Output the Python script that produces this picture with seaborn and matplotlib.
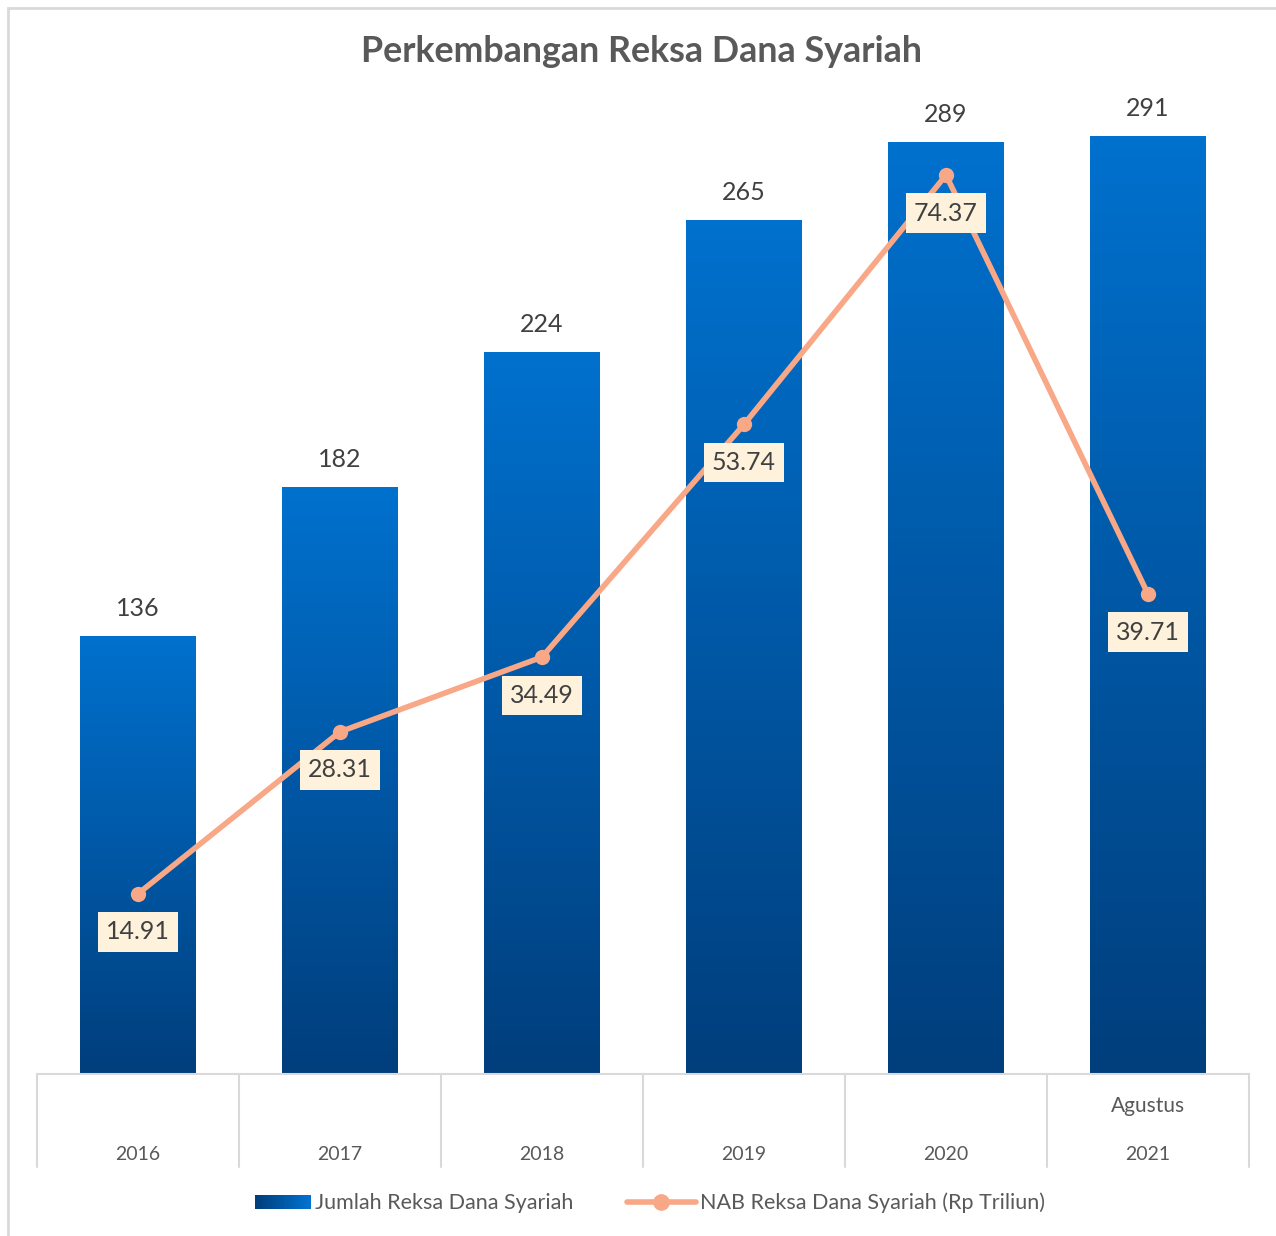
import seaborn as sns
import matplotlib.pyplot as plt
import matplotlib.transforms as mtransforms
from matplotlib.colors import LinearSegmentedColormap
from matplotlib.patches import Rectangle, Patch
from matplotlib.lines import Line2D
from matplotlib.legend_handler import HandlerBase
import numpy as np
import pandas as pd

# data
years = ['2016', '2017', '2018', '2019', '2020', '2021']
sub_labels = ['', '', '', '', '', 'Agustus']
jumlah = [136, 182, 224, 265, 289, 291]
nab = [14.91, 28.31, 34.49, 53.74, 74.37, 39.71]

sns.set_theme(style='white')
plt.rcParams['font.family'] = ['Lato', 'DejaVu Sans']

TEXT = '#595959'
GRID = '#D9D9D9'
LINE = '#F8A886'
TOP_BLUE = '#0071CE'
BOT_BLUE = '#003E7C'

cmap = LinearSegmentedColormap.from_list('bar', [BOT_BLUE, TOP_BLUE])


class GradientHandler(HandlerBase):
    # legend key with a left-to-right gradient, like the bars
    def create_artists(self, legend, orig_handle, xdescent, ydescent,
                       width, height, fontsize, trans):
        n = 20
        w = width * 0.8
        x0 = -xdescent + (width - w)
        h = height * 0.9
        y0 = -ydescent + (height - h) / 2
        arts = []
        for k in range(n):
            r = Rectangle((x0 + k * w / n, y0), w / n + 0.3, h,
                          fc=cmap(k / (n - 1)), ec='none', transform=trans)
            arts.append(r)
        return arts


fig = plt.figure(figsize=(12.76, 12.36), dpi=100)
ax = fig.add_axes([37 / 1276, 162 / 1236, 1212 / 1276, 967 / 1236])

df = pd.DataFrame({'year': years, 'jumlah': jumlah})
sns.barplot(data=df, x='year', y='jumlah', order=years, color=TOP_BLUE,
            width=0.574, ax=ax, zorder=2)

# vertical gradient inside each bar
grad = np.linspace(0, 1, 256).reshape(-1, 1)
for bar in ax.patches:
    x0, y0 = bar.get_x(), bar.get_y()
    w, h = bar.get_width(), bar.get_height()
    im = ax.imshow(grad, cmap=cmap, origin='lower', aspect='auto',
                   extent=(x0, x0 + w, y0, y0 + h), zorder=2.1)
    im.set_clip_path(bar)
    ax.text(x0 + w / 2, y0 + h + 5, f'{int(h)}', ha='center', va='bottom',
            fontsize=18, color='#404040', zorder=3)
ax.set_xlim(-0.5, len(years) - 0.5)
ax.set_ylim(0, 300)

# secondary axis for the line
ax2 = ax.twinx()
sns.lineplot(x=np.arange(len(years)), y=nab, color=LINE, linewidth=4,
             marker='o', markersize=11, markeredgewidth=0, ax=ax2, zorder=4)
ax2.set_ylim(0, 80)
ax2.set_xlim(-0.5, len(years) - 0.5)
for i, v in enumerate(nab):
    ax2.annotate(f'{v:.2f}', (i, v), xytext=(0, -27.5), textcoords='offset points',
                 ha='center', va='center', fontsize=18, color='#404040',
                 bbox=dict(boxstyle='square,pad=0.33', fc='#FFF2DC', ec='none'),
                 zorder=5)

for a in (ax, ax2):
    a.set_yticks([])
    a.set_xticks([])
    a.set_xlabel('')
    a.set_ylabel('')
    for s in a.spines.values():
        s.set_visible(False)
    a.patch.set_alpha(0)

# multi-level category axis
trans = mtransforms.blended_transform_factory(ax.transData, ax.transAxes)
depth = 93 / 967
ax.plot([-0.5, len(years) - 0.5], [0, 0], transform=trans, color=GRID,
        lw=1.5, clip_on=False, zorder=3)
for k in range(len(years) + 1):
    ax.plot([k - 0.5, k - 0.5], [0, -depth], transform=trans, color=GRID,
            lw=1.5, clip_on=False)
for i, (y, s) in enumerate(zip(years, sub_labels)):
    ax.text(i, -80 / 967, y, transform=trans, ha='center', va='center',
            fontsize=14, color=TEXT)
    if s:
        ax.text(i, -32 / 967, s, transform=trans, ha='center', va='center',
                fontsize=15, color=TEXT)

fig.text(0.503, 1 - 52 / 1236, 'Perkembangan Reksa Dana Syariah', ha='center',
         va='center', fontsize=25.8, fontweight='bold', color=TEXT)

handles = [Patch(facecolor='#005BA8', edgecolor='none'),
           Line2D([], [], color=LINE, lw=4, marker='o', markersize=11)]
fig.legend(handles, ['Jumlah Reksa Dana Syariah', 'NAB Reksa Dana Syariah (Rp Triliun)'],
           loc='center', bbox_to_anchor=(0.504, 1 - 1203 / 1236), ncol=2,
           frameon=False, fontsize=15.5, labelcolor=TEXT, handlelength=3.2,
           handletextpad=0.2, columnspacing=2.5,
           handler_map={Patch: GradientHandler()})

fig.add_artist(Rectangle((8 / 1276, -0.01), 1.02, 1 - 8 / 1236 + 0.01,
                         transform=fig.transFigure, fill=False, ec=GRID, lw=2))

fig.savefig('out.png', dpi=100)
